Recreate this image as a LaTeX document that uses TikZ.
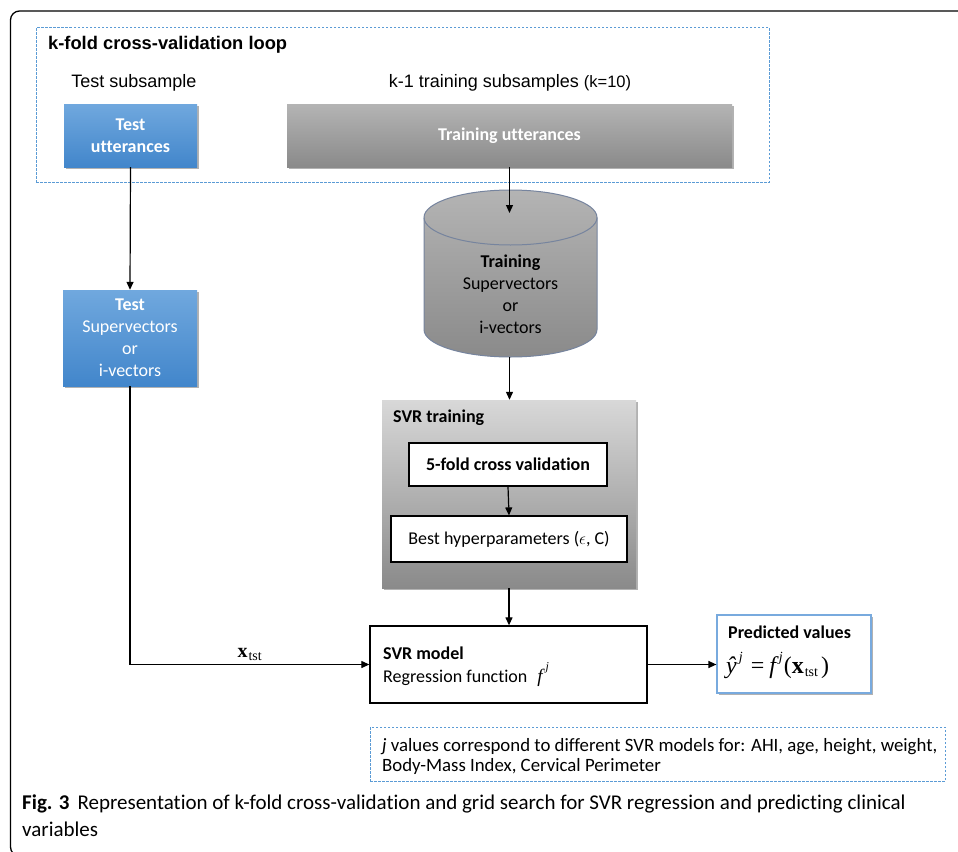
\documentclass[tikz,border=0pt]{standalone}
\usepackage{fontspec}
\setmainfont{Carlito}[Ligatures=NoCommon]
\newfontfamily\arialf{Liberation Sans}
\newfontfamily\tmsf{Liberation Serif}
\usetikzlibrary{arrows.meta,shadows,calc}
\definecolor{dashblue}{RGB}{91,155,213}
\definecolor{bluetop}{RGB}{112,168,222}
\definecolor{bluebot}{RGB}{66,134,203}
\definecolor{graytop}{RGB}{180,180,180}
\definecolor{graybot}{RGB}{138,138,138}
\definecolor{svrtop}{RGB}{216,216,216}
\definecolor{svrbot}{RGB}{138,138,138}
\definecolor{cylborder}{RGB}{118,132,158}
\definecolor{predborder}{RGB}{120,170,222}
\tikzset{
  arr/.style={-{Triangle[length=8pt,width=7pt]}, line width=1.2pt},
  dashbox/.style={draw=dashblue, line width=1pt, dash pattern=on 2.5pt off 1.5pt},
  shad/.style={drop shadow={shadow xshift=1.5pt, shadow yshift=-2pt, fill=black, opacity=0.3}},
  boxfont/.style={font=\fontsize{18}{22}\selectfont},
  bluebox/.style={shad, top color=bluetop, bottom color=bluebot, text=white, align=center, inner sep=0pt, boxfont},
  graybox/.style={shad, top color=graytop, bottom color=graybot, text=white, align=center, inner sep=0pt,
     font=\fontsize{18}{22}\selectfont\bfseries},
  svrbox/.style={shad, top color=svrtop, bottom color=svrbot, inner sep=0pt},
  whitebox/.style={draw=black, fill=white, line width=1.2pt, inner sep=0pt, align=center, boxfont},
  arialtxt/.style={font=\arialf\fontsize{18}{22}\selectfont, inner sep=0pt},
  captxt/.style={anchor=base west, inner sep=0pt, font=\fontsize{21}{27}\selectfont},
}
\begin{document}
\begin{tikzpicture}[x=1pt,y=-1pt]
\useasboundingbox (0,0) rectangle (958,851);
\fill[white] (0,0) rectangle (958,851);
% outer frame
\draw[line width=1.3pt, rounded corners=9pt] (990,856) -- (10.5,856) -- (10.5,11) -- (990,11);

% k-fold loop box
\node[dashbox, minimum width=733pt, minimum height=154pt, inner sep=0pt] (loop) at (402.5,105) {};
\node[arialtxt, font=\arialf\bfseries\fontsize{18.3}{22}\selectfont, anchor=west] (looptitle) at (48,45) {k-fold cross-validation loop};
\node[arialtxt] (testsub) at (134,83) {Test subsample};
\node[arialtxt] (trainsub) at (510,83) {k-1 training subsamples {\fontsize{16.5}{18}\selectfont(k=10)}};

% utterance boxes
\node[bluebox, font=\fontsize{18}{22}\selectfont\bfseries, minimum width=133pt, minimum height=63pt] (testutt) at (130.5,135.5) {Test\\utterances};
\node[graybox, minimum width=445pt, minimum height=63pt] (trainutt) at (509.5,135.5) {Training utterances};

% test supervectors
\node[bluebox, minimum width=134pt, minimum height=96pt] (testsv) at (130,338) {\textbf{Test}\\Supervectors\\or\\i-vectors};

% cylinder
\path[top color=graytop, bottom color=graybot, draw=cylborder, line width=1pt]
  (424,217.5) -- (424,329.5) arc[start angle=180, end angle=360, x radius=86.5pt, y radius=27.5pt]
  -- (597,217.5) arc[start angle=0, end angle=180, x radius=86.5pt, y radius=27.5pt] -- cycle;
\draw[cylborder, line width=1pt] (424,217.5) arc[start angle=180, end angle=360, x radius=86.5pt, y radius=27.5pt];
\node[align=center, inner sep=0pt, boxfont] (cyl) at (510.5,294) {\textbf{Training}\\Supervectors\\or\\i-vectors};
\coordinate (cyltop) at (509.5,213);
\coordinate (cylbot) at (509.5,357);

% SVR training
\node[svrbox, minimum width=254pt, minimum height=188pt] (svrtrain) at (509,494) {};
\node[anchor=west, inner sep=0pt, font=\fontsize{18}{22}\selectfont\bfseries] (svrlbl) at (393,418) {SVR training};
\node[whitebox, font=\fontsize{18}{22}\selectfont\bfseries, minimum width=198pt, minimum height=43pt] (fivefold) at (508,464.5) {5-fold cross validation};
\node[whitebox, minimum width=236pt, minimum height=46pt] (best) at (509,539) {Best hyperparameters ($\epsilon$, C)};

% SVR model
\node[whitebox, line width=1.3pt, minimum width=277pt, minimum height=77pt] (svrmodel) at (508.5,664.5) {};
\node[anchor=base west, inner sep=0pt, font=\fontsize{18}{22}\selectfont\bfseries] (svrmtxt) at (383,659) {SVR model};
\node[anchor=base west, inner sep=0pt, font=\fontsize{18}{22}\selectfont] (regtxt) at (383,682)
  {Regression function\hspace{10pt}{\tmsf\itshape\fontsize{19}{22}\selectfont f\hspace{3pt}\raisebox{1.3ex}{\fontsize{12}{14}\selectfont j}}};

% predicted values
\node[draw=predborder, fill=white, line width=1.2pt, shad, minimum width=154pt, minimum height=78pt, inner sep=0pt] (pred) at (794,654) {};
\node[anchor=west, inner sep=0pt, font=\fontsize{18}{22}\selectfont\bfseries] (predlbl) at (728,632) {Predicted values};
\node[anchor=base west, inner sep=0pt, font=\tmsf\fontsize{24}{26}\selectfont] (formula) at (726,673)
  {\itshape ŷ\hspace{2pt}\raisebox{1.0ex}{\fontsize{14}{14}\selectfont j}\upshape\hspace{8pt}=\hspace{5pt}\itshape f\hspace{3pt}\raisebox{1.0ex}{\fontsize{14}{14}\selectfont j}\upshape\hspace{1pt}(\textbf{x}\hspace{1pt}\raisebox{-0.35ex}{\fontsize{14}{14}\selectfont tst}\hspace{3pt})};

% note box
\node[dashbox, minimum width=575pt, minimum height=54pt, inner sep=0pt] (note) at (657.5,754) {};
\node[anchor=west, inner sep=0pt, align=left, font=\fontsize{18.8}{20}\selectfont] (notetxt) at (382,756)
  {\textit{j} values correspond to different SVR models for: AHI, age, height, weight,\\Body-Mass Index, Cervical Perimeter};

% caption
\node[captxt] (caption1) at (22,809)
  {\textbf{Fig. 3}\hspace{8pt}Representation of k-fold cross-validation and grid search for SVR regression and predicting clinical};
\node[captxt] (caption2) at (22,836) {variables};

% connectors
\draw[arr] (testutt.south) -- (testsv.north);
\draw[arr] (trainutt.south) -- (cyltop);
\draw[arr] (cylbot) -- (cylbot |- svrtrain.north);
\draw[arr] (fivefold.south) -- (best.north);
\draw[arr] (svrtrain.south) -- (svrtrain.south |- svrmodel.north);
\draw[arr] (testsv.south) |- (svrmodel.west)
  node[pos=0.75, above=3pt, font=\tmsf\fontsize{20}{22}\selectfont, inner sep=0pt] (xtst) {\textbf{x}\hspace{1pt}\raisebox{-0.35ex}{\fontsize{14}{14}\selectfont tst}};
\draw[arr] (svrmodel.east) -- (svrmodel.east -| pred.west);
\end{tikzpicture}
\end{document}
